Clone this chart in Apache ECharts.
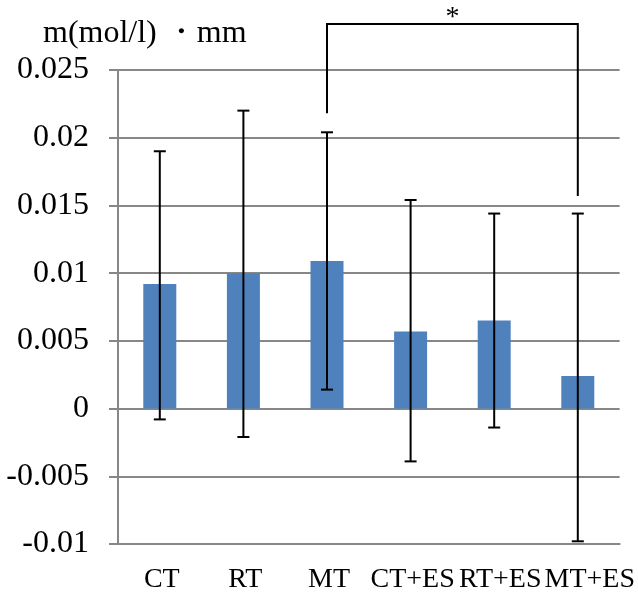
<!DOCTYPE html>
<html>
<head>
<meta charset="utf-8">
<script src="https://cdn.jsdelivr.net/npm/echarts@6/dist/echarts.min.js"></script>
<style>html,body{margin:0;padding:0;background:#fff}#c{width:638px;height:598px}</style>
</head>
<body>
<div id="c"></div>
<script>
var categories = ['CT', 'RT', 'MT', 'CT+ES', 'RT+ES', 'MT+ES'];
var means = [0.0092, 0.0100, 0.0109, 0.0057, 0.0065, 0.0024];
var errHigh = [0.0190, 0.0220, 0.0204, 0.0154, 0.0144, 0.0144];
var errLow = [-0.0008, -0.0021, 0.0014, -0.0039, -0.0014, -0.0098];
var yTicks = { min: -0.01, max: 0.025, interval: 0.005 };
var bracketFrom = 2, bracketTo = 5;
var bracketLeftEnd = 0.0218, bracketTopLevel = 0.0284, bracketRightEnd = 0.0157;
var bracketLabel = '*';

var chart = echarts.init(document.getElementById('c'));
var errData = categories.map(function (c, i) { return [i, errLow[i], errHigh[i]]; });
var font = '"Liberation Serif", "Times New Roman", serif';
var labelStyles = ['s', 's', 's', 'l0', 'l1', 'l2'];

chart.setOption({
  animation: false,
  title: {
    text: 'm(mol/l) ・mm',
    left: 38, top: 13,
    textStyle: { fontFamily: font, fontSize: 32, fontWeight: 'normal', color: '#000' }
  },
  grid: { left: 118, right: 18, top: 70, bottom: 54, containLabel: false },
  xAxis: {
    type: 'category',
    data: categories,
    axisLine: { show: true, onZero: false, lineStyle: { color: '#878787', width: 2 } },
    axisTick: { show: false },
    axisLabel: {
      margin: 22, fontFamily: font, fontSize: 28, color: '#000', interval: 0,
      formatter: function (v, i) { return '{' + labelStyles[i] + '|' + v + '}'; },
      rich: {
        s: { fontFamily: font, fontSize: 28, color: '#000', padding: [0, 0, 0, 4] },
        l0: { fontFamily: font, fontSize: 28, color: '#000', padding: [0, 0, 0, 4] },
        l1: { fontFamily: font, fontSize: 28, color: '#000', padding: [0, 0, 0, 12] },
        l2: { fontFamily: font, fontSize: 28, color: '#000', padding: [0, 0, 0, 24] }
      }
    }
  },
  yAxis: {
    type: 'value',
    min: yTicks.min, max: yTicks.max, interval: yTicks.interval,
    axisLine: { show: true, lineStyle: { color: '#878787', width: 2 } },
    axisTick: { show: true, length: 9, lineStyle: { color: '#878787', width: 2 } },
    splitLine: { show: true, lineStyle: { color: '#878787', width: 2 } },
    axisLabel: { margin: 29, fontFamily: font, fontSize: 32, color: '#000' }
  },
  series: [
    {
      type: 'bar',
      data: means,
      barWidth: 33,
      itemStyle: { color: '#4F81BD' },
      z: 2
    },
    {
      type: 'custom',
      data: errData,
      z: 3,
      renderItem: function (params, api) {
        var x = api.value(0);
        var lo = api.coord([x, api.value(1)]);
        var hi = api.coord([x, api.value(2)]);
        var cap = 6;
        var st = { stroke: '#000', lineWidth: 2 };
        return {
          type: 'group',
          children: [
            { type: 'line', shape: { x1: hi[0], y1: hi[1], x2: lo[0], y2: lo[1] }, style: st },
            { type: 'line', shape: { x1: hi[0] - cap, y1: hi[1], x2: hi[0] + cap, y2: hi[1] }, style: st },
            { type: 'line', shape: { x1: lo[0] - cap, y1: lo[1], x2: lo[0] + cap, y2: lo[1] }, style: st }
          ]
        };
      }
    },
    {
      type: 'custom',
      data: [[bracketFrom, bracketTo, bracketLeftEnd, bracketTopLevel, bracketRightEnd]],
      clip: false,
      z: 4,
      renderItem: function (params, api) {
        var a = api.coord([api.value(0), api.value(2)]);
        var b = api.coord([api.value(0), api.value(3)]);
        var c = api.coord([api.value(1), api.value(3)]);
        var d = api.coord([api.value(1), api.value(4)]);
        return {
          type: 'group',
          children: [
            { type: 'polyline', shape: { points: [a, b, c, d] }, style: { stroke: '#000', lineWidth: 2, fill: null } },
            { type: 'text', style: { text: bracketLabel, x: (b[0] + c[0]) / 2, y: b[1] - 6, align: 'center', verticalAlign: 'middle', font: '28px ' + font, fill: '#000' } }
          ]
        };
      }
    }
  ]
});
</script>
</body>
</html>
